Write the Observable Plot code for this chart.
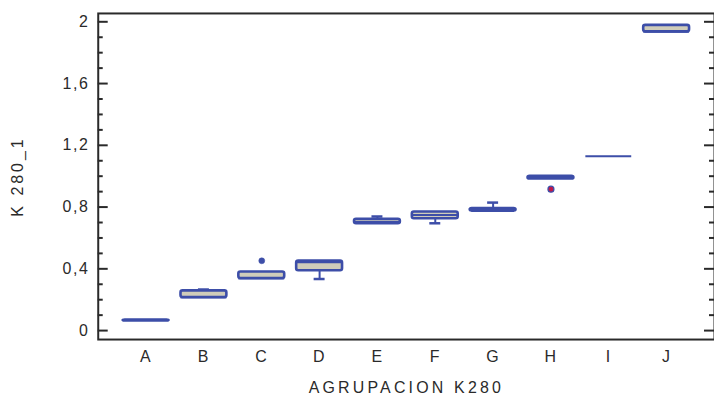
<!DOCTYPE html>
<html>
<head>
<meta charset="utf-8">
<script src="https://cdn.jsdelivr.net/npm/d3@7"></script>
<script src="https://cdn.jsdelivr.net/npm/@observablehq/plot@0.6"></script>
<style>
  html, body { margin: 0; padding: 0; background: #fff; overflow: hidden; }
  #chart svg { font-family: "Liberation Sans", Arial, sans-serif; }
  #chart svg g[aria-label="x-axis label"] text { letter-spacing: 3.2px; }
  #chart svg g[aria-label="y-axis label"] text { letter-spacing: 3px; }
</style>
</head>
<body>
<div id="chart"></div>
<script>
// Categories and box statistics
const categories = ["A", "B", "C", "D", "E", "F", "G", "H", "I", "J"];
const q1     = [0.064, 0.214, 0.337, 0.388, 0.692, 0.724, 0.774, 0.982, 1.129, 1.935];
const median = [0.066, 0.214, 0.337, 0.442, 0.705, 0.748, 0.782, 0.990, 1.129, 1.935];
const q3     = [0.068, 0.257, 0.379, 0.450, 0.721, 0.768, 0.790, 0.999, 1.129, 1.977];
const lower  = [0.064, 0.214, 0.337, 0.334, 0.692, 0.695, 0.774, 0.982, 1.129, 1.935];
const upper  = [0.068, 0.266, 0.379, 0.450, 0.739, 0.768, 0.829, 0.999, 1.129, 1.977];
const outlierCats = ["C", "H"];
const outlierVals = [0.452, 0.916];
const majorTicks = [0, 0.4, 0.8, 1.2, 1.6, 2];
const minorTicks = [0.1, 0.2, 0.3, 0.5, 0.6, 0.7, 0.9, 1.0, 1.1, 1.3, 1.4, 1.5, 1.7, 1.8, 1.9];
const yDomain = [-0.058, 2.054];

const boxes = categories.map((c, i) => ({cat: c, q1: q1[i], med: median[i], q3: q3[i], lo: lower[i], hi: upper[i]}));
const outliers = outlierCats.map((c, i) => ({cat: c, v: outlierVals[i]}));

const W = 716, ML = 98, MR = 0;
const plotW = W - ML - MR;
const blue = "#3d4ea8";
const fillGray = "#cfccba";
const ink = "#2a2a2a";
const fmt = d => String(d).replace(".", ",");

const chart = Plot.plot({
  width: W,
  height: 399,
  marginLeft: ML,
  marginRight: MR,
  marginTop: 13,
  marginBottom: 59,
  style: {fontSize: "16px", color: ink, letterSpacing: "1.5px", overflow: "visible"},
  x: {domain: categories, paddingInner: 0.2, paddingOuter: 0.367},
  y: {domain: yDomain},
  marks: [
    // x axis labels
    Plot.axisX({tickSize: 0, tickPadding: 11, label: "AGRUPACION K280", labelArrow: "none", labelAnchor: "center", labelOffset: 54, fill: ink}),
    // y axis labels
    Plot.axisY({ticks: majorTicks, tickSize: 0, tickPadding: 9, tickFormat: fmt, label: "K 280_1", labelArrow: "none", labelAnchor: "center", labelOffset: 87, fill: ink}),
    // inward ticks, left side
    Plot.tickY(majorTicks, {y: d => d, stroke: ink, strokeWidth: 2, insetRight: plotW - 10}),
    Plot.tickY(minorTicks, {y: d => d, stroke: ink, strokeWidth: 2, insetRight: plotW - 5}),
    // inward ticks, right side
    Plot.tickY(majorTicks, {y: d => d, stroke: ink, strokeWidth: 2, insetLeft: plotW - 10}),
    Plot.tickY(minorTicks, {y: d => d, stroke: ink, strokeWidth: 2, insetLeft: plotW - 5}),
    // whiskers
    Plot.ruleX(boxes.filter(d => d.hi > d.q3), {x: "cat", y1: "q3", y2: "hi", stroke: blue, strokeWidth: 2}),
    Plot.ruleX(boxes.filter(d => d.lo < d.q1), {x: "cat", y1: "lo", y2: "q1", stroke: blue, strokeWidth: 2}),
    Plot.tickY(boxes.filter(d => d.hi > d.q3), {x: "cat", y: "hi", stroke: blue, strokeWidth: 2.5, insetLeft: 17.5, insetRight: 17.5}),
    Plot.tickY(boxes.filter(d => d.lo < d.q1), {x: "cat", y: "lo", stroke: blue, strokeWidth: 2.5, insetLeft: 17.5, insetRight: 17.5}),
    // boxes
    Plot.barY(boxes, {x: "cat", y1: "q1", y2: "q3", fill: fillGray, stroke: blue, strokeWidth: 2.6, rx: 2}),
    // medians
    Plot.tickY(boxes, {x: "cat", y: "med", stroke: blue, strokeWidth: 2}),
    // outliers
    Plot.dot(outliers.filter(d => d.cat === "C"), {x: "cat", y: "v", r: 3, fill: blue, stroke: blue, strokeWidth: 0.5}),
    Plot.dot(outliers.filter(d => d.cat === "H"), {x: "cat", y: "v", r: 3, fill: "#c0184a", stroke: blue, strokeWidth: 1.2}),
    // frame
    Plot.frame({stroke: ink, strokeWidth: 2})
  ]
});

document.getElementById("chart").appendChild(chart);
</script>
</body>
</html>
